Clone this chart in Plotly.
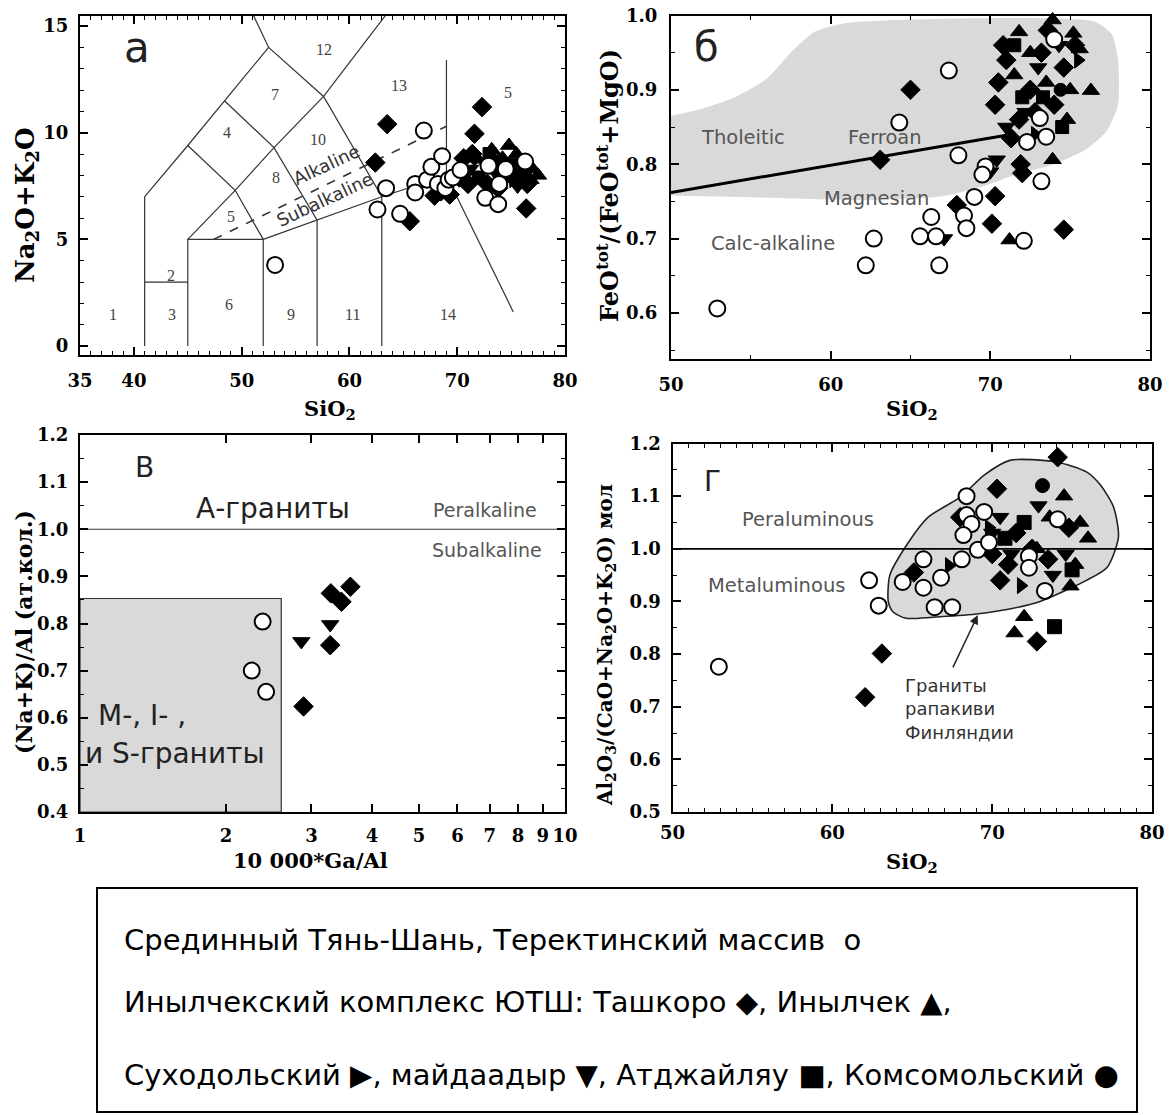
import numpy as np
import plotly.graph_objects as go

W, H = 1172, 1115

# ---------------- panel а : TAS diagram ----------------
tas_lines = [
    [(41, 0), (41, 7), (45, 9.4), (48.4, 11.5), (52.5, 14), (51.0, 15.6)],
    [(41, 3), (45, 3)],
    [(45, 0), (45, 5), (52, 5), (52, 0)],
    [(45, 5), (49.4, 7.3), (53, 9.3), (57.6, 11.7), (63.5, 15.6)],
    [(45, 9.4), (49.4, 7.3), (52, 5)],
    [(48.4, 11.5), (53, 9.3), (57, 5.9), (57, 0)],
    [(52, 5), (57, 5.9), (63, 7), (69, 8), (75.2, 1.6)],
    [(52.5, 14), (57.6, 11.7), (63, 7), (63, 0)],
    [(69, 8), (69, 13.4)],
]
tas_alk_divide = [(47.4, 5.0), (69.0, 10.3)]
tas_field_labels = ["1", "2", "3", "4", "5", "6", "7", "8", "9", "10", "11", "12", "13", "14", "5"]
tas_field_x = [38.1, 43.4, 43.5, 48.6, 49.0, 48.8, 53.1, 53.2, 54.6, 57.1, 60.3, 57.6, 64.6, 69.1, 74.7]
tas_field_y = [1.5, 3.3, 1.5, 10.0, 6.05, 1.97, 11.8, 7.9, 1.5, 9.7, 1.5, 13.9, 12.2, 1.5, 11.9]

a_open_si = [53.1, 62.6, 63.4, 64.7, 66.1, 66.1, 66.9, 67.2, 67.6, 68.2, 68.6, 68.9, 69.2, 69.6, 70.3, 72.6, 72.9, 73.8, 73.9, 74.5, 76.3]
a_open_alk = [3.8, 6.4, 7.4, 6.2, 7.6, 7.2, 10.1, 7.8, 8.4, 7.6, 8.9, 7.4, 7.8, 7.9, 8.25, 6.95, 8.45, 6.65, 7.6, 8.3, 8.65]
a_dia_si = [72.3, 63.5, 71.6, 62.4, 65.6, 76.4, 67.9, 68.5, 70.6, 71.4, 72.8, 73.8, 71.0, 70.2, 76.5, 69.3, 74.5]
a_dia_alk = [11.2, 10.4, 9.95, 8.6, 5.85, 6.45, 7.05, 7.25, 8.8, 9.0, 7.6, 7.4, 7.6, 7.9, 7.6, 7.1, 8.0]
a_tri_si = [74.8, 75.5, 76.3, 77.0, 77.5, 75.8, 74.2, 76.8, 73.2]
a_tri_alk = [9.4, 9.0, 8.7, 8.3, 8.0, 8.2, 8.8, 7.8, 9.2]
a_down_si = [72.5, 73.6, 74.5, 71.2, 75.6]
a_down_alk = [8.6, 8.1, 7.9, 8.3, 7.5]
a_sq_si = [73.0, 75.0, 72.0, 76.0]
a_sq_alk = [9.0, 8.5, 7.9, 7.9]
a_dot_si = [74.0]
a_dot_alk = [8.7]
a_right_si = [71.8, 75.2]
a_right_alk = [8.8, 7.8]

# ---------------- panel б : Fe-number vs SiO2 ----------------
b_field_si = [50, 52, 54, 56, 57.5, 59, 61, 76.5, 77.6, 78, 78, 77.3, 76, 74, 71.5, 69.5, 67, 62, 56, 50]
b_field_fe = [0.865, 0.875, 0.89, 0.915, 0.95, 0.978, 0.99, 0.992, 0.975, 0.94, 0.88, 0.845, 0.82, 0.80,
              0.785, 0.77, 0.757, 0.752, 0.755, 0.758]
b_divide_si = [50, 71.0]
b_divide_fe = [0.762, 0.839]

b_open_si = [52.9, 67.4, 64.3, 68.0, 69.7, 69.5, 69.0, 72.3, 73.5, 74.0, 73.2, 72.1, 66.3, 65.6, 66.6, 68.35, 68.5, 62.7, 62.2, 66.8, 73.1]
b_open_fe = [0.606, 0.926, 0.856, 0.812, 0.797, 0.786, 0.756, 0.830, 0.837, 0.968, 0.777, 0.697, 0.729, 0.703, 0.703,
             0.731, 0.714, 0.700, 0.664, 0.664, 0.862]
b_dia_si = [65.0, 63.1, 70.3, 70.1, 74.6, 71.9, 72.0, 67.9, 70.5, 71.0, 71.8, 72.5, 73.2, 74.6, 75.3, 70.3, 71.3, 72.8, 74.0, 73.6, 70.8]
b_dia_fe = [0.900, 0.806, 0.757, 0.720, 0.712, 0.800, 0.788, 0.745, 0.910, 0.940, 0.860, 0.900, 0.950, 0.930, 0.960,
            0.880, 0.835, 0.870, 0.880, 0.980, 0.960]
b_tri_si = [76.3, 73.9, 71.2, 71.8, 73.9, 75.2, 72.5, 74.8, 75.0, 73.5, 71.5, 75.6]
b_tri_fe = [0.899, 0.806, 0.698, 0.978, 0.994, 0.976, 0.950, 0.860, 0.900, 0.910, 0.920, 0.955]
b_down_si = [67.1, 70.4, 70.0, 72.2, 73.0, 74.3, 71.0]
b_down_fe = [0.700, 0.806, 0.790, 0.870, 0.930, 0.960, 0.850]
b_sq_si = [72.0, 74.5, 73.3, 71.5]
b_sq_fe = [0.890, 0.850, 0.890, 0.960]
b_dot_si = [74.4]
b_dot_fe = [0.900]
b_right_si = [72.8, 75.5]
b_right_fe = [0.840, 0.940]

# ---------------- panel в : (Na+K)/Al vs 10000*Ga/Al ----------------
c_box_ga = [1, 2.6, 2.6, 1, 1]
c_box_nk = [0.4, 0.4, 0.853, 0.853, 0.4]
c_open_ga = [2.38, 2.26, 2.42]
c_open_nk = [0.804, 0.700, 0.655]
c_dia_ga = [2.89, 3.28, 3.29, 3.61, 3.46]
c_dia_nk = [0.624, 0.754, 0.864, 0.878, 0.846]
c_down_ga = [2.86, 3.28]
c_down_nk = [0.762, 0.798]
c_ticks = [1, 2, 3, 4, 5, 6, 7, 8, 9, 10]

# ---------------- panel г : A/CNK vs SiO2 ----------------
d_field_si = [63.5, 63.8, 64.6, 66.3, 69, 71, 73, 75.9, 77.2, 77.9, 77.6, 76.8, 75.9, 74, 71.1, 69.5, 68, 66, 64.5, 63.6, 63.5]
d_field_acnk = [0.90, 0.88, 0.868, 0.87, 0.876, 0.885, 0.90, 0.94, 0.965, 1.022, 1.079, 1.12, 1.146, 1.165, 1.168,
                1.14, 1.098, 1.06, 1.0, 0.95, 0.90]
d_open_si = [52.9, 62.3, 62.9, 64.4, 65.7, 65.7, 66.8, 66.4, 67.5, 68.1, 68.4, 68.4, 68.7, 68.2, 69.5, 69.1, 69.8, 72.3, 72.3, 73.3, 74.1]
d_open_acnk = [0.776, 0.940, 0.892, 0.937, 0.980, 0.926, 0.945, 0.889, 0.889, 0.980, 1.100, 1.064, 1.047, 1.026,
               1.070, 0.998, 1.012, 0.986, 0.964, 0.920, 1.056]
d_dia_si = [70.3, 74.1, 72.8, 63.1, 62.05, 71.0, 71.5, 72.5, 70.5, 73.5, 74.8, 65.1, 68.0, 70.0]
d_dia_acnk = [1.114, 1.174, 0.824, 0.801, 0.718, 0.970, 1.030, 1.000, 0.940, 0.980, 1.040, 0.955, 1.060, 0.990]
d_tri_si = [71.4, 72.0, 74.9, 75.5, 76.0, 74.5, 72.8, 73.6, 75.2]
d_tri_acnk = [0.840, 0.871, 0.929, 1.050, 1.020, 1.100, 1.000, 1.060, 0.970]
d_down_si = [72.9, 70.5, 71.2, 73.8, 74.6, 70.0]
d_down_acnk = [1.082, 1.060, 0.990, 0.950, 0.990, 1.030]
d_sq_si = [73.9, 72.0, 75.0, 70.8]
d_sq_acnk = [0.852, 1.050, 0.960, 1.020]
d_dot_si = [73.15]
d_dot_acnk = [1.120]
d_right_si = [71.8, 69.8, 67.3]
d_right_acnk = [0.930, 1.040, 0.968]

legend_lines = [
    "Срединный Тянь-Шань, Теректинский массив  о",
    "Инылчекский комплекс ЮТШ: Ташкоро \u25c6, Инылчек \u25b2,",
    "Суходольский \u25b6, майдаадыр \u25bc, Атджайляу \u25a0, Комсомольский \u25cf",
]

# ---------------------------------------------------------------
SERIF = "DejaVu Serif"
SANS = "DejaVu Sans"
GRAY_FILL = "#d9d9d9"
LABEL_GRAY = "#555555"


def dom_x(left, right):
    return [left / W, right / W]


def dom_y(top, bottom):
    return [1 - bottom / H, 1 - top / H]


fig = go.Figure()


def black(xs, ys, symbol, size, xa, ya):
    fig.add_trace(go.Scatter(x=xs, y=ys, mode="markers", xaxis=xa, yaxis=ya, showlegend=False,
                             marker=dict(symbol=symbol, size=size, color="black",
                                         line=dict(color="black", width=1)),
                             cliponaxis=False))


def openc(xs, ys, xa, ya, size=15):
    fig.add_trace(go.Scatter(x=xs, y=ys, mode="markers", xaxis=xa, yaxis=ya, showlegend=False,
                             marker=dict(symbol="circle", size=size, color="white",
                                         line=dict(color="black", width=2)),
                             cliponaxis=False))


def line(xs, ys, xa, ya, width=1.2, color="#333333", dash="solid"):
    fig.add_trace(go.Scatter(x=xs, y=ys, mode="lines", xaxis=xa, yaxis=ya, showlegend=False,
                             line=dict(color=color, width=width, dash=dash), hoverinfo="skip"))


# ---- panel а ----
for seg in tas_lines:
    line([p[0] for p in seg], [p[1] for p in seg], "x", "y")
line([p[0] for p in tas_alk_divide], [p[1] for p in tas_alk_divide], "x", "y", width=1.6, dash="dash")
black(a_dia_si, a_dia_alk, "diamond", 15, "x", "y")
black(a_tri_si, a_tri_alk, "triangle-up", 15, "x", "y")
black(a_down_si, a_down_alk, "triangle-down", 15, "x", "y")
black(a_sq_si, a_sq_alk, "square", 13, "x", "y")
black(a_dot_si, a_dot_alk, "circle", 13, "x", "y")
black(a_right_si, a_right_alk, "triangle-right", 14, "x", "y")
openc(a_open_si, a_open_alk, "x", "y", 16)

# ---- panel б ----
fig.add_trace(go.Scatter(x=b_field_si, y=b_field_fe, mode="lines", fill="toself", fillcolor=GRAY_FILL,
                         line=dict(color=GRAY_FILL, width=0, shape="spline", smoothing=0.6),
                         xaxis="x2", yaxis="y2", showlegend=False, hoverinfo="skip"))
line(b_divide_si, b_divide_fe, "x2", "y2", width=3, color="black")
black(b_dia_si, b_dia_fe, "diamond", 15, "x2", "y2")
black(b_tri_si, b_tri_fe, "triangle-up", 15, "x2", "y2")
black(b_down_si, b_down_fe, "triangle-down", 15, "x2", "y2")
black(b_sq_si, b_sq_fe, "square", 13, "x2", "y2")
black(b_dot_si, b_dot_fe, "circle", 13, "x2", "y2")
black(b_right_si, b_right_fe, "triangle-right", 14, "x2", "y2")
openc(b_open_si, b_open_fe, "x2", "y2", 16)

# ---- panel в ----
fig.add_trace(go.Scatter(x=c_box_ga, y=c_box_nk, mode="lines", fill="toself", fillcolor=GRAY_FILL,
                         line=dict(color="#333333", width=1.2), xaxis="x3", yaxis="y3",
                         showlegend=False, hoverinfo="skip"))
line([1, 10], [1.0, 1.0], "x3", "y3", width=1.2)
black(c_dia_ga, c_dia_nk, "diamond", 15, "x3", "y3")
black(c_down_ga, c_down_nk, "triangle-down", 15, "x3", "y3")
openc(c_open_ga, c_open_nk, "x3", "y3", 16)

# ---- panel г ----
fig.add_trace(go.Scatter(x=d_field_si, y=d_field_acnk, mode="lines", fill="toself", fillcolor=GRAY_FILL,
                         line=dict(color="#222222", width=1.6, shape="spline", smoothing=0.7),
                         xaxis="x4", yaxis="y4", showlegend=False, hoverinfo="skip"))
line([50, 80], [1.0, 1.0], "x4", "y4", width=1.8, color="black")
black(d_dia_si, d_dia_acnk, "diamond", 15, "x4", "y4")
black(d_tri_si, d_tri_acnk, "triangle-up", 15, "x4", "y4")
black(d_down_si, d_down_acnk, "triangle-down", 15, "x4", "y4")
black(d_sq_si, d_sq_acnk, "square", 14, "x4", "y4")
black(d_dot_si, d_dot_acnk, "circle", 14, "x4", "y4")
black(d_right_si, d_right_acnk, "triangle-right", 14, "x4", "y4")
openc(d_open_si, d_open_acnk, "x4", "y4", 16)

# ---------------- axes ----------------
tickfont = dict(family=SERIF, size=18, color="black", weight="bold")


def axis(domain, rng, anchor, tickvals, ticktext=None, minor_dtick=None, axtype="linear", standoff=6):
    d = dict(domain=domain, range=rng, anchor=anchor, type=axtype,
             showline=True, linewidth=2, linecolor="black", mirror="allticks",
             ticks="inside", ticklen=8, tickwidth=1.5, tickcolor="black",
             showgrid=False, zeroline=False, tickfont=tickfont, ticklabelstandoff=standoff,
             tickmode="array", tickvals=tickvals, automargin=False, fixedrange=True)
    if ticktext is not None:
        d["ticktext"] = ticktext
    if minor_dtick is not None:
        d["minor"] = dict(ticks="inside", ticklen=4, tickwidth=1, tickcolor="black",
                          dtick=minor_dtick, showgrid=False)
    return d


fig.update_layout(
    width=W, height=H, margin=dict(l=0, r=0, t=0, b=0),
    paper_bgcolor="white", plot_bgcolor="rgba(0,0,0,0)", showlegend=False,
    xaxis=axis(dom_x(80, 565), [35, 80], "y", [35, 40, 50, 60, 70, 80], minor_dtick=1, standoff=8),
    yaxis=axis(dom_y(16, 355), [-0.42, 15.47], "x", [0, 5, 10, 15], minor_dtick=1),
    xaxis2=axis(dom_x(671, 1150), [50, 80], "y2", [50, 60, 70, 80], minor_dtick=5, standoff=8),
    yaxis2=axis(dom_y(15.5, 359), [0.538, 1.0], "x2", [0.6, 0.7, 0.8, 0.9, 1.0],
                ticktext=["0.6", "0.7", "0.8", "0.9", "1.0"], minor_dtick=0.05, standoff=8),
    xaxis3=axis(dom_x(80, 565), [0, 1], "y3", c_ticks, ticktext=[str(v) for v in c_ticks],
                axtype="log", standoff=6),
    yaxis3=axis(dom_y(435, 812), [0.4, 1.2], "x3", [0.4 + 0.1 * i for i in range(9)],
                ticktext=["0.4", "0.5", "0.6", "0.7", "0.8", "0.9", "1.0", "1.1", "1.2"], minor_dtick=0.05),
    xaxis4=axis(dom_x(672.5, 1152), [50, 80], "y4", [50, 60, 70, 80], minor_dtick=1, standoff=3),
    yaxis4=axis(dom_y(443.5, 812), [0.5, 1.2], "x4", [0.5 + 0.1 * i for i in range(8)],
                ticktext=["0.5", "0.6", "0.7", "0.8", "0.9", "1.0", "1.1", "1.2"], minor_dtick=0.05),
)

ann = []


def tfont(size):
    return dict(family=SERIF, size=size, color="black", weight="bold")


def paper_text(text, x, y, font, angle=0, xanchor="center"):
    ann.append(dict(text=text, x=x / W, y=1 - y / H, xref="paper", yref="paper", showarrow=False,
                    font=font, textangle=angle, xanchor=xanchor, yanchor="middle"))


def data_text(text, x, y, xa, ya, font, angle=0, xanchor="center"):
    ann.append(dict(text=text, x=x, y=y, xref=xa, yref=ya, showarrow=False, font=font,
                    textangle=angle, xanchor=xanchor, yanchor="middle"))


# axis titles
paper_text("Na<sub>2</sub>O+K<sub>2</sub>O", 27, 205, tfont(26), -90)
paper_text("SiO<sub>2</sub>", 330, 410, tfont(21))
paper_text("FeO<sup>tot</sup>/(FeO<sup>tot</sup>+MgO)", 608, 185, tfont(24), -90)
paper_text("SiO<sub>2</sub>", 912, 410, tfont(21))
paper_text("(Na+K)/Al (ат.кол.)", 24, 632, tfont(22), -90)
paper_text("10 000*Ga/Al", 310, 860, tfont(21))
paper_text("Al<sub>2</sub>O<sub>3</sub>/(CaO+Na<sub>2</sub>O+K<sub>2</sub>O) мол", 606, 645, tfont(20), -90)
paper_text("SiO<sub>2</sub>", 912, 862, tfont(21))

# panel а labels
numfont = dict(family="Liberation Serif", size=16, color="#444444")
for t, xv, yv in zip(tas_field_labels, tas_field_x, tas_field_y):
    data_text(t, xv, yv, "x", "y", numfont)
data_text("а", 40.3, 14.0, "x", "y", dict(family=SANS, size=42, color="#222222"))
data_text("Alkaline", 57.9, 8.5, "x", "y", dict(family=SANS, size=18, color="#333333"), angle=-25)
data_text("Subalkaline", 57.7, 6.85, "x", "y", dict(family=SANS, size=18, color="#333333"), angle=-25)

# panel б labels
lbl = dict(family=SANS, size=19.5, color=LABEL_GRAY)
data_text("б", 52.2, 0.958, "x2", "y2", dict(family=SANS, size=40, color="#222222"))
data_text("Tholeitic", 54.5, 0.836, "x2", "y2", lbl)
data_text("Ferroan", 63.4, 0.836, "x2", "y2", lbl)
data_text("Magnesian", 62.9, 0.754, "x2", "y2", lbl)
data_text("Calc-alkaline", 56.4, 0.694, "x2", "y2", lbl)

# panel в labels (log axis -> positions in log10 units)
data_text("В", np.log10(1.36), 1.13, "x3", "y3", dict(family=SANS, size=28, color="#222222"))
data_text("А-граниты", np.log10(2.5), 1.045, "x3", "y3", dict(family=SANS, size=28, color="#222222"))
data_text("Peralkaline", np.log10(6.85), 1.04, "x3", "y3", dict(family=SANS, size=19, color=LABEL_GRAY))
data_text("Subalkaline", np.log10(6.9), 0.955, "x3", "y3", dict(family=SANS, size=19, color=LABEL_GRAY))
data_text("M-, I- ,", np.log10(1.08), 0.605, "x3", "y3", dict(family=SANS, size=28, color="#222222"), xanchor="left")
data_text("и S-граниты", np.log10(1.015), 0.524, "x3", "y3", dict(family=SANS, size=28, color="#222222"), xanchor="left")

# panel г labels
data_text("Г", 52.5, 1.127, "x4", "y4", dict(family=SANS, size=28, color="#222222"))
data_text("Peraluminous", 58.5, 1.056, "x4", "y4", lbl)
data_text("Metaluminous", 56.5, 0.93, "x4", "y4", lbl)
ann.append(dict(text="Граниты<br>рапакиви<br>Финляндии", x=64.4, y=0.695, xref="x4", yref="y4",
                showarrow=False, align="left", xanchor="left", yanchor="middle",
                font=dict(family=SANS, size=18, color="#333333")))
ann.append(dict(text="", x=69.1, y=0.874, ax=67.5, ay=0.772, xref="x4", yref="y4", axref="x4", ayref="y4",
                showarrow=True, arrowhead=2, arrowsize=1.2, arrowwidth=1.5, arrowcolor="#222222"))

# legend box text
legfont = dict(family=SANS, size=29, color="black")
for txt, yy in zip(legend_lines, [940, 1002, 1075]):
    paper_text(txt, 122, yy, legfont, xanchor="left")

fig.update_layout(annotations=ann)
fig.add_shape(type="rect", xref="paper", yref="paper", x0=97 / W, x1=1137 / W, y0=1 - 1112 / H, y1=1 - 888 / H,
              line=dict(color="black", width=2))

fig.write_html("out.html")
